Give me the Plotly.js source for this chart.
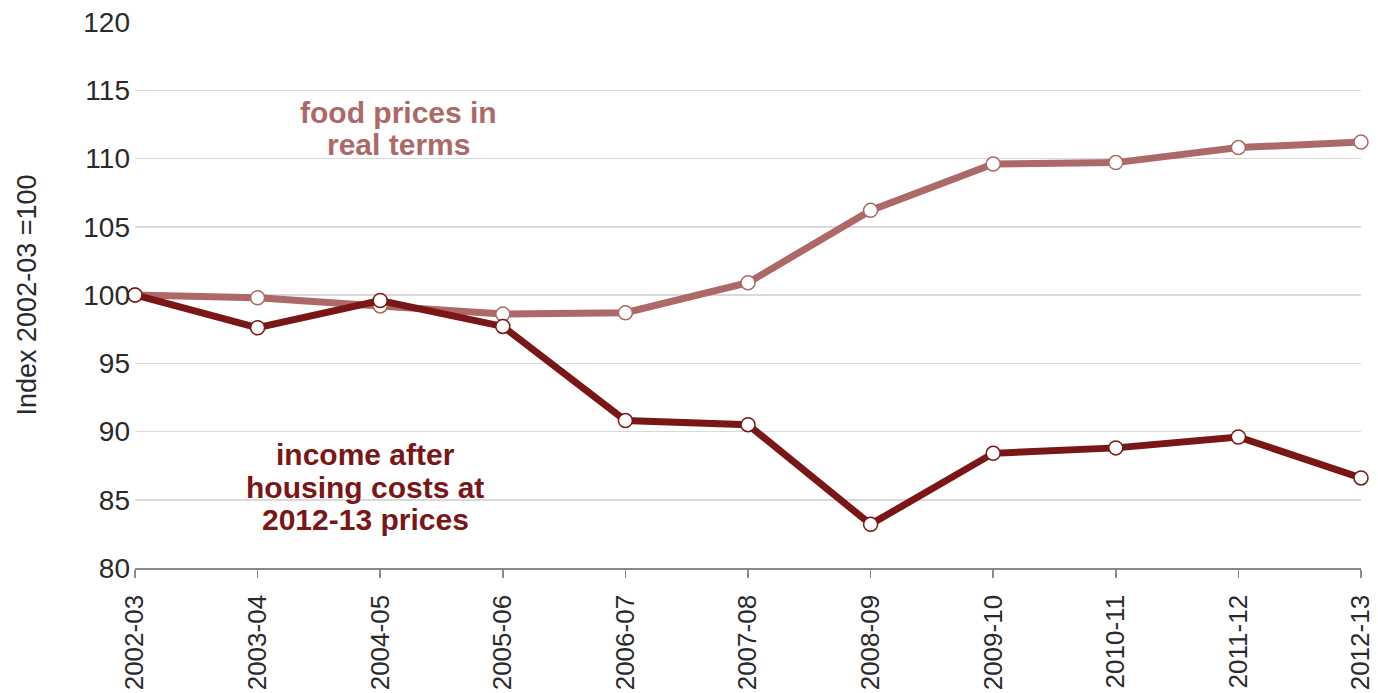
<!DOCTYPE html>
<html>
<head>
<meta charset="utf-8">
<script src="https://cdn.plot.ly/plotly-3.0.1.min.js"></script>
<style>html,body{margin:0;padding:0;background:#fff;}#chart{width:1378px;height:693px;}</style>
</head>
<body>
<div id="chart"></div>
<script>
const years = ["2002-03","2003-04","2004-05","2005-06","2006-07","2007-08","2008-09","2009-10","2010-11","2011-12","2012-13"];
const foodPrices = [100, 99.8, 99.2, 98.6, 98.7, 100.9, 106.2, 109.6, 109.7, 110.8, 111.2];
const incomeAHC = [100, 97.6, 99.6, 97.7, 90.8, 90.5, 83.2, 88.4, 88.8, 89.6, 86.6];
const yTicks = [80, 85, 90, 95, 100, 105, 110, 115, 120];
const foodLabel = ["food prices in", "real terms"];
const incomeLabel = ["income after", "housing costs at", "2012-13 prices"];

const foodColor = "#ad6868";
const incomeColor = "#7a1616";
const fontFam = "Liberation Sans, Arial, sans-serif";

const traces = [
  {
    x: years, y: foodPrices, type: "scatter", mode: "lines+markers",
    line: {color: foodColor, width: 7},
    marker: {size: 14, color: "#ffffff", line: {color: foodColor, width: 1.5}},
    cliponaxis: false, hoverinfo: "skip"
  },
  {
    x: years, y: incomeAHC, type: "scatter", mode: "lines+markers",
    line: {color: incomeColor, width: 7},
    marker: {size: 14, color: "#ffffff", line: {color: incomeColor, width: 1.5}},
    cliponaxis: false, hoverinfo: "skip"
  }
];

const foodY = [113.4, 111.0];
const incomeY = [88.28, 85.93, 83.52];
const annotations = [];
foodLabel.forEach((t, i) => annotations.push({
  x: 2.15, y: foodY[i], xref: "x", yref: "y", text: "<b>" + t + "</b>", showarrow: false,
  font: {size: 30, color: foodColor, family: fontFam}, xanchor: "center", yanchor: "middle"
}));
incomeLabel.forEach((t, i) => annotations.push({
  x: 1.88, y: incomeY[i], xref: "x", yref: "y", text: "<b>" + t + "</b>", showarrow: false,
  font: {size: 30, color: incomeColor, family: fontFam}, xanchor: "center", yanchor: "middle"
}));

const layout = {
  width: 1378, height: 693,
  margin: {l: 135, r: 17, t: 22, b: 125},
  paper_bgcolor: "#ffffff", plot_bgcolor: "#ffffff",
  showlegend: false,
  font: {family: fontFam, color: "#2a2a2a"},
  xaxis: {
    type: "category", range: [0, years.length - 1],
    tickangle: -90, tickfont: {size: 26, color: "#2a2a2a"}, ticklabelstandoff: 7,
    showgrid: false, showline: true, linecolor: "#8a8a8a", linewidth: 1.5,
    ticks: "outside", ticklen: 8, tickcolor: "#8a8a8a", tickwidth: 1.5,
    zeroline: false, automargin: false
  },
  yaxis: {
    range: [80, 120], tickvals: yTicks, ticktext: yTicks.map(String),
    tickfont: {size: 28, color: "#2a2a2a"},
    showgrid: true, gridcolor: "#d9d9d9", gridwidth: 1.5,
    showline: false, zeroline: false, ticks: "", ticklabelstandoff: 4,
    automargin: false,
    title: {text: "Index 2002-03 =100", font: {size: 27, color: "#2a2a2a"}, standoff: 38}
  },
  annotations: annotations
};

Plotly.newPlot("chart", traces, layout, {displayModeBar: false, staticPlot: true});
</script>
</body>
</html>
